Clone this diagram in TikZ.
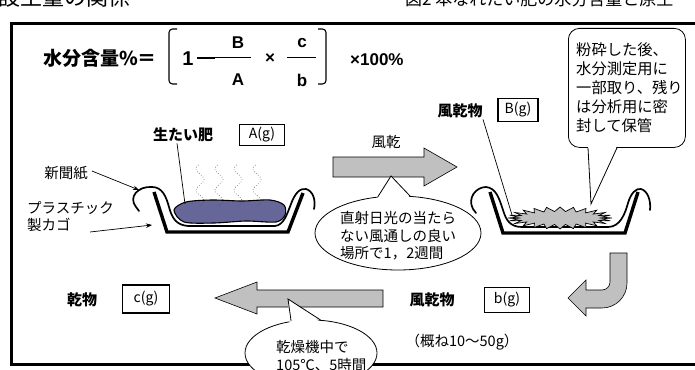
\documentclass[tikz,border=0pt]{standalone}
\usepackage{fontspec}
\newfontfamily\jp{Noto Sans CJK JP}
\newfontfamily\lat{Liberation Sans}
\usetikzlibrary{shapes.geometric,arrows.meta,calc}
\definecolor{arrowgray}{HTML}{C0C0C0}
\definecolor{manure}{HTML}{666699}
\definecolor{dust}{HTML}{C0C0C0}

\begin{document}
\begin{tikzpicture}[x=1pt,y=-1pt,
  lbl/.style={font=\jp\bfseries\fontsize{15}{18}\selectfont, inner sep=0pt},
  plain/.style={font=\jp\fontsize{14.5}{17.5}\selectfont, inner sep=0pt},
  gbox/.style={draw, line width=1.6pt, inner sep=0pt, font=\jp\fontsize{14}{16}\selectfont},
  bigarrow/.style={fill=arrowgray, draw=black, line width=0.6pt, line join=miter},
  basket/.style={line width=3.4pt, line join=miter},
  paper/.style={line width=1.7pt, line cap=round},
  leader/.style={line width=0.7pt},
  pointer/.style={-{Stealth[length=6pt,width=4.5pt]}, line width=0.7pt},
  bubble/.style={draw, fill=white, line width=0.8pt, inner sep=0pt},
  steam/.style={dotted, line width=0.6pt, black!70},
  fml/.style={font=\lat\bfseries\fontsize{17}{20}\selectfont, inner sep=0pt}
]
\useasboundingbox (0,0) rectangle (695,369);
\clip (0,0) rectangle (695,369);

% caption lines running off the top edge
\node[font=\jp\fontsize{22}{24}\selectfont, anchor=west, inner sep=0pt] (capL) at (-2,-3) {設土量の関係};
\node[font=\jp\fontsize{17}{20}\selectfont, anchor=west, inner sep=0pt] (capR) at (405,-1) {図2 本なれたい肥の水分含量と原土};

% outer frame
\draw[line width=3pt] (705,23.5) -- (11.5,23.5) -- (11.5,364.5) -- (705,364.5);

% ---- formula ----
\node[font=\jp\bfseries\fontsize{19}{22}\selectfont, inner sep=0pt] (mc) at (100,58) {水分含量\%＝};
\draw[line width=1.1pt, rounded corners=3.5pt] (177,29) -- (169,29) -- (169,84) -- (177,84);
\node[fml, font=\lat\bfseries\fontsize{20}{22}\selectfont] (one) at (188,59) {1};
\draw[line width=2.2pt] (197,58) -- (215,58);
\draw[line width=1pt] (215,57.5) -- (251,57.5);
\node[fml] (nB) at (238,43) {B};
\node[fml] (nA) at (238,80) {A};
\node[fml] (times1) at (270,59) {×};
\draw[line width=1pt] (287,57.5) -- (316,57.5);
\node[fml] (nc) at (302,43) {c};
\node[fml] (nb) at (302,80) {b};
\draw[line width=1.1pt, rounded corners=3.5pt] (318,29) -- (326,29) -- (326,84) -- (318,84);
\node[fml, anchor=west] (hund) at (350,60) {×100\%};

% ---- fresh compost in its basket ----
\draw[basket] (154,192) -- (167,232) -- (288,232) -- (303,193);
\draw[paper] (139,211) -- (136,207) .. controls (128,197) and (138,186) .. (152,187)
  .. controls (162,187) and (166,196) .. (169,207) .. controls (172,218) and (176,225) .. (188,226)
  -- (275,226) .. controls (284,225) and (287,214) .. (291,204)
  .. controls (295,193) and (300,188) .. (306,189) .. controls (313,191) and (316,200) .. (314,209);
\draw[black, fill=manure, line width=1.1pt] plot[smooth cycle] coordinates
  {(174,210) (186,202) (212,200) (242,201) (270,200) (284,205) (285,215) (276,222) (246,221) (214,223) (184,222)};
\foreach \sx in {200,219,238,257}
  \draw[steam] plot[domain=0:42, samples=43, smooth] ({\sx+4*sin(\x*17)}, {206-\x});

\node[lbl] (fresh) at (183,135) {生たい肥};
\node[gbox, minimum width=45pt, minimum height=21pt] (boxA) at (262,135) {A(g)};
\coordinate (freshTo) at (185,204);
\draw[leader] ($(fresh.south)+(-6,1)$) -- (freshTo);

\node[plain] (np) at (66,173) {新聞紙};
\coordinate (npTo) at (139,190);
\draw[pointer] ($(np.east)+(4,-2)$) -- (npTo);
\node[plain, align=left, anchor=north west] (pk) at (27,201) {プラスチック\\製カゴ};
\coordinate (pkFrom) at (90,232);
\coordinate (pkTo) at (152,225);
\draw[pointer] (pkFrom) -- (pkTo);

% ---- air drying arrow ----
\draw[bigarrow] (333,157) -- (424,157) -- (424,148) -- (457,167) -- (424,186) -- (424,177) -- (333,177) -- cycle;
\node[plain] (wind) at (386,142) {風乾};

\node[bubble, ellipse, minimum width=166pt, minimum height=74pt] (sun) at (398,233) {};
\coordinate (sunTip) at (391,176);
\fill[white] (sunTip) -- ($(sun.121)+(0,3)$) -- ($(sun.70)+(0,3)$) -- cycle;
\draw[line width=0.8pt, line join=miter] (sun.119) -- (sunTip) -- (sun.72);
\node[plain, align=left, anchor=west, font=\jp\fontsize{14.5}{17.5}\selectfont] (suntext) at (340,236)
  {直射日光の当たら\\ない風通しの良い\\場所で1，2週間};

% ---- air-dried sample in its basket ----
\draw[basket] (490,192) -- (503,233) -- (625,233) -- (638,192);
\draw[paper] (476,213) -- (473,209) .. controls (467,198) and (476,187) .. (486,187)
  .. controls (496,188) and (499,198) .. (503,210) .. controls (506,220) and (510,227) .. (522,227)
  -- (608,227) .. controls (620,227) and (625,214) .. (628,203)
  .. controls (631,193) and (636,188) .. (641,189) .. controls (648,191) and (651,201) .. (650,210);
\draw[fill=dust, line width=0.7pt, line join=miter] plot[domain=0:47, samples=48, variable=\k]
  ({560+(mod(\k,2)==0 ? 52 : 42)*cos(\k*7.5)}, {218+(mod(\k,2)==0 ? 11 : 6.5)*sin(\k*7.5)}) -- cycle;

\node[lbl] (dryB) at (460,111) {風乾物};
\node[gbox, minimum width=40pt, minimum height=23pt] (boxB) at (518,110) {B(g)};
\coordinate (dryBTo) at (512,215);
\draw[leader] ($(dryB.south)+(23,1)$) -- (dryBTo);

\node[bubble, rounded corners=11pt, minimum width=117pt, minimum height=119pt, anchor=north west] (memo) at (568,28) {};
\coordinate (memoTip) at (591,204);
\fill[white] (memoTip) -- ($(memo.south west)+(20,-2)$) -- ($(memo.south west)+(49,-2)$) -- cycle;
\draw[line width=0.8pt, line join=miter] ($(memo.south west)+(20,0)$) -- (memoTip) -- ($(memo.south west)+(49,0)$);
\node[plain, align=left, anchor=west, font=\jp\fontsize{15.3}{19}\selectfont] (memotext) at (576,88)
  {粉砕した後、\\水分測定用に\\一部取り、残り\\は分析用に密\\封して保管};

% ---- turn-down arrow ----
\draw[bigarrow] (610,253) -- (627,253) -- (627,283) arc (0:90:25) -- (586,308) -- (586,316)
  -- (568,298) -- (586,280) -- (586,290) -- (602,290) arc (90:0:8) -- cycle;

\node[lbl] (dryb) at (432,300) {風乾物};
\node[gbox, minimum width=45pt, minimum height=25pt] (boxb) at (507,300) {b(g)};
\node[plain] (approx) at (462,342) {（概ね10～50g）};

% ---- oven drying arrow ----
\draw[bigarrow] (383,290) -- (257,290) -- (257,282) -- (215,298) -- (257,314) -- (257,307) -- (383,307) -- cycle;
\node[lbl] (dryc) at (82,300) {乾物};
\node[gbox, minimum width=47pt, minimum height=28pt] (boxc) at (146,299) {c(g)};

\node[bubble, ellipse, minimum width=132pt, minimum height=66pt] (oven) at (311,353) {};
\coordinate (ovenTip) at (288,299);
\fill[white] (ovenTip) -- ($(oven.124)+(0,3)$) -- ($(oven.72)+(0,3)$) -- cycle;
\draw[line width=0.8pt, line join=miter] (oven.122) -- (ovenTip) -- (oven.74);
\node[plain, align=left, anchor=north west, font=\jp\fontsize{14.5}{18}\selectfont] (oventext) at (276,340)
  {乾燥機中で\\105℃、5時間};
\end{tikzpicture}
\end{document}
